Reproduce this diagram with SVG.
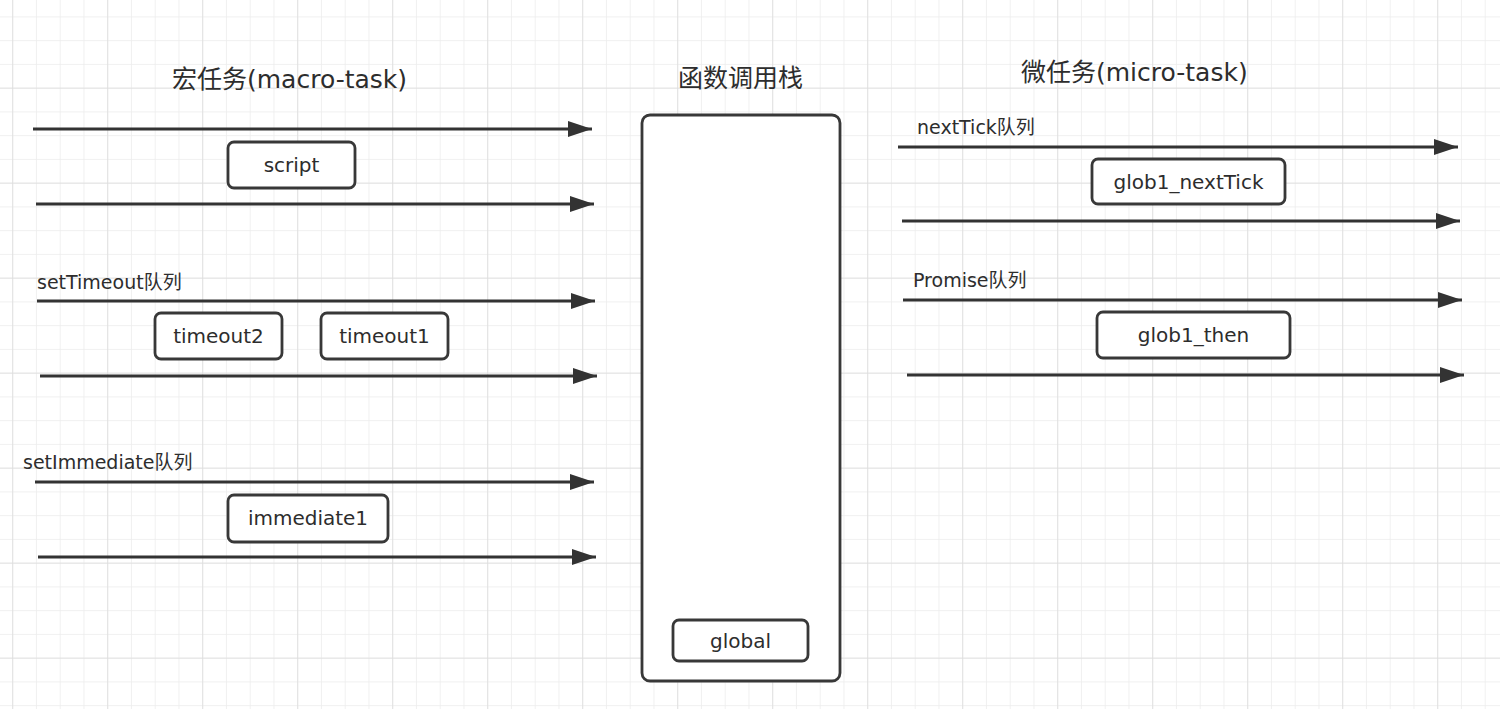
<svg xmlns="http://www.w3.org/2000/svg" width="1500" height="709" viewBox="0 0 1500 709">
<style>
.title{font-family:"DejaVu Sans","Noto Sans CJK SC",sans-serif;font-size:25px;fill:#2d2d2d}
.qlabel{font-family:"DejaVu Sans","Noto Sans CJK SC",sans-serif;font-size:19px;fill:#2d2d2d}
.blabel{font-family:"DejaVu Sans","Noto Sans CJK SC",sans-serif;font-size:20px;fill:#2d2d2d;text-anchor:middle}
.box{fill:#ffffff;stroke:#383838;stroke-width:2.8}
.arrow{stroke:#333333;stroke-width:3;fill:none;marker-end:url(#ah)}
</style>
<defs>
<pattern id="minor" patternUnits="userSpaceOnUse" x="12.2" y="16.4" width="23.75" height="23.75">
<path d="M0,0 V23.75 M0,0 H23.75" stroke="#ececec" stroke-width="1.5" fill="none"/>
</pattern>
<pattern id="major" patternUnits="userSpaceOnUse" x="12.2" y="87.65" width="95" height="95">
<path d="M0,0 V95 M0,0 H95" stroke="#dddddd" stroke-width="1.6" fill="none"/>
</pattern>
<marker id="ah" markerUnits="userSpaceOnUse" markerWidth="24" markerHeight="16" refX="24" refY="8" orient="auto">
<path d="M0,0 L24,8 L0,16 Z" fill="#333333"/>
</marker>
</defs>
<rect x="0" y="0" width="1500" height="709" fill="#ffffff"/>
<rect x="0" y="0" width="1500" height="709" fill="url(#minor)"/>
<rect x="0" y="0" width="1500" height="709" fill="url(#major)"/>

<g id="titles">
<text class="title" x="172" y="88">宏任务(macro-task)</text>
<text class="title" x="678" y="87">函数调用栈</text>
<text class="title" x="1021" y="81">微任务(micro-task)</text>
</g>

<g id="queue-labels">
<text class="qlabel" x="37" y="289">setTimeout队列</text>
<text class="qlabel" x="23" y="469">setImmediate队列</text>
<text class="qlabel" x="917" y="134">nextTick队列</text>
<text class="qlabel" x="913" y="287">Promise队列</text>
</g>

<g id="connectors">
<line class="arrow" x1="33" y1="129" x2="592" y2="129"/>
<line class="arrow" x1="36" y1="204" x2="594" y2="204"/>
<line class="arrow" x1="37" y1="301" x2="595" y2="301"/>
<line class="arrow" x1="40" y1="376" x2="597" y2="376"/>
<line class="arrow" x1="35" y1="482" x2="594" y2="482"/>
<line class="arrow" x1="38" y1="557" x2="596" y2="557"/>
<line class="arrow" x1="898" y1="147" x2="1458" y2="147"/>
<line class="arrow" x1="902" y1="221" x2="1460" y2="221"/>
<line class="arrow" x1="903" y1="300" x2="1462" y2="300"/>
<line class="arrow" x1="907" y1="375" x2="1464" y2="375"/>
</g>

<g id="call-stack">
<rect class="box" x="642" y="115" width="198" height="566" rx="8"/>
</g>

<g id="node-script">
<rect class="box" x="228" y="142" width="127" height="46" rx="6"/>
<text class="blabel" x="291.5" y="172">script</text>
</g>
<g id="node-timeout2">
<rect class="box" x="155" y="313" width="127" height="46" rx="6"/>
<text class="blabel" x="218.5" y="343">timeout2</text>
</g>
<g id="node-timeout1">
<rect class="box" x="321" y="313" width="127" height="46" rx="6"/>
<text class="blabel" x="384.5" y="343">timeout1</text>
</g>
<g id="node-immediate1">
<rect class="box" x="228" y="495" width="160" height="47" rx="6"/>
<text class="blabel" x="308" y="525">immediate1</text>
</g>
<g id="node-global">
<rect class="box" x="673" y="620" width="135" height="41" rx="6"/>
<text class="blabel" x="740.5" y="648">global</text>
</g>
<g id="node-glob1-nextTick">
<rect class="box" x="1092" y="159" width="193" height="45" rx="6"/>
<text class="blabel" x="1188.5" y="189">glob1_nextTick</text>
</g>
<g id="node-glob1-then">
<rect class="box" x="1097" y="312" width="193" height="46" rx="6"/>
<text class="blabel" x="1193.5" y="342">glob1_then</text>
</g>
</svg>
